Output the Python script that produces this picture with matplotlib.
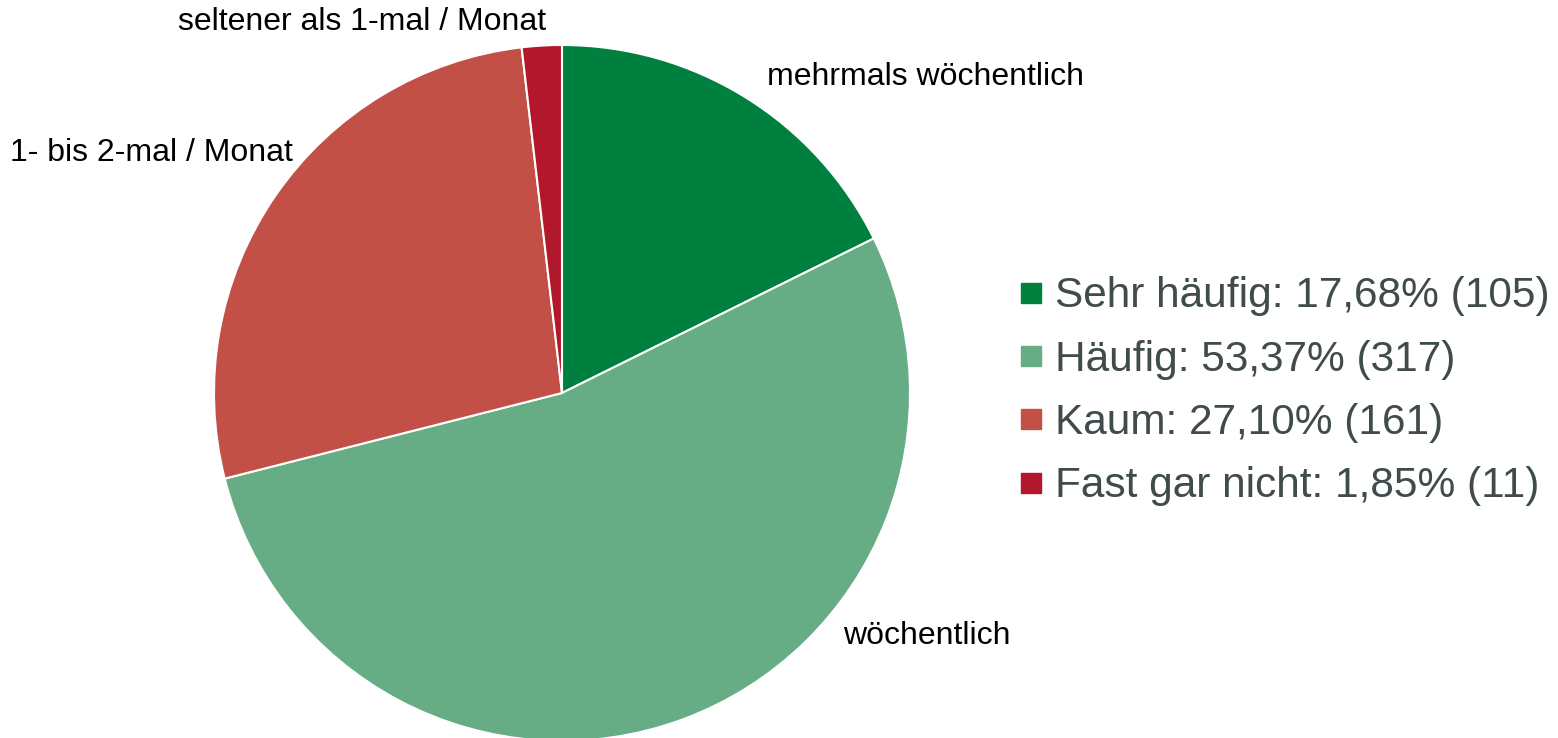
import matplotlib.pyplot as plt
from matplotlib.lines import Line2D

categories = ['Sehr häufig', 'Häufig', 'Kaum', 'Fast gar nicht']
counts = [105, 317, 161, 11]
slice_labels = ['mehrmals wöchentlich', 'wöchentlich', '1- bis 2-mal / Monat', 'seltener als 1-mal / Monat']
colors = ['#00803F', '#66AC84', '#C35046', '#B2172B']

plt.rcParams['font.family'] = ['Liberation Sans', 'DejaVu Sans']

fig = plt.figure(figsize=(15.58, 7.38), dpi=100)
W, H = 1558, 738
cx, cy, r = 562, 393, 348
ax = fig.add_axes([(cx - r) / W, (H - cy - r) / H, 2 * r / W, 2 * r / H])

wedges, _ = ax.pie(counts, colors=colors, startangle=90, counterclock=False,
                   wedgeprops=dict(edgecolor='white', linewidth=1.5))
ax.set_xlim(-1, 1)
ax.set_ylim(-1, 1)
ax.set_aspect('equal')
for w in wedges:
    w.set_clip_on(False)

# label positions (pixel -> radius units), Excel style best fit
def px(x, y):
    return (x - cx) / r, (cy - y) / r

pos = [(px(767, 77), 'left'), (px(843, 636), 'left'),
       (px(293, 153), 'right'), (px(362, 22), 'center')]
for lab, ((x, y), ha) in zip(slice_labels, pos):
    ax.text(x, y, lab, ha=ha, va='center', fontsize=23, color='black', clip_on=False)

total = sum(counts)
leg_labels = ['%s: %s%% (%d)' % (c, ('%.2f' % (100 * n / total)).replace('.', ','), n)
              for c, n in zip(categories, counts)]
handles = [Line2D([], [], marker='s', ls='', color=c, markersize=14) for c in colors]
leg = fig.legend(handles, leg_labels, loc='upper left', bbox_to_anchor=(1020 / W, 1 - 276.5 / H),
                 frameon=False, fontsize=30.5, handlelength=0.5, handletextpad=0.33,
                 labelspacing=0.55, borderpad=0, borderaxespad=0)
for t in leg.get_texts():
    t.set_color('#404B4B')

fig.savefig('out.png', dpi=100)
